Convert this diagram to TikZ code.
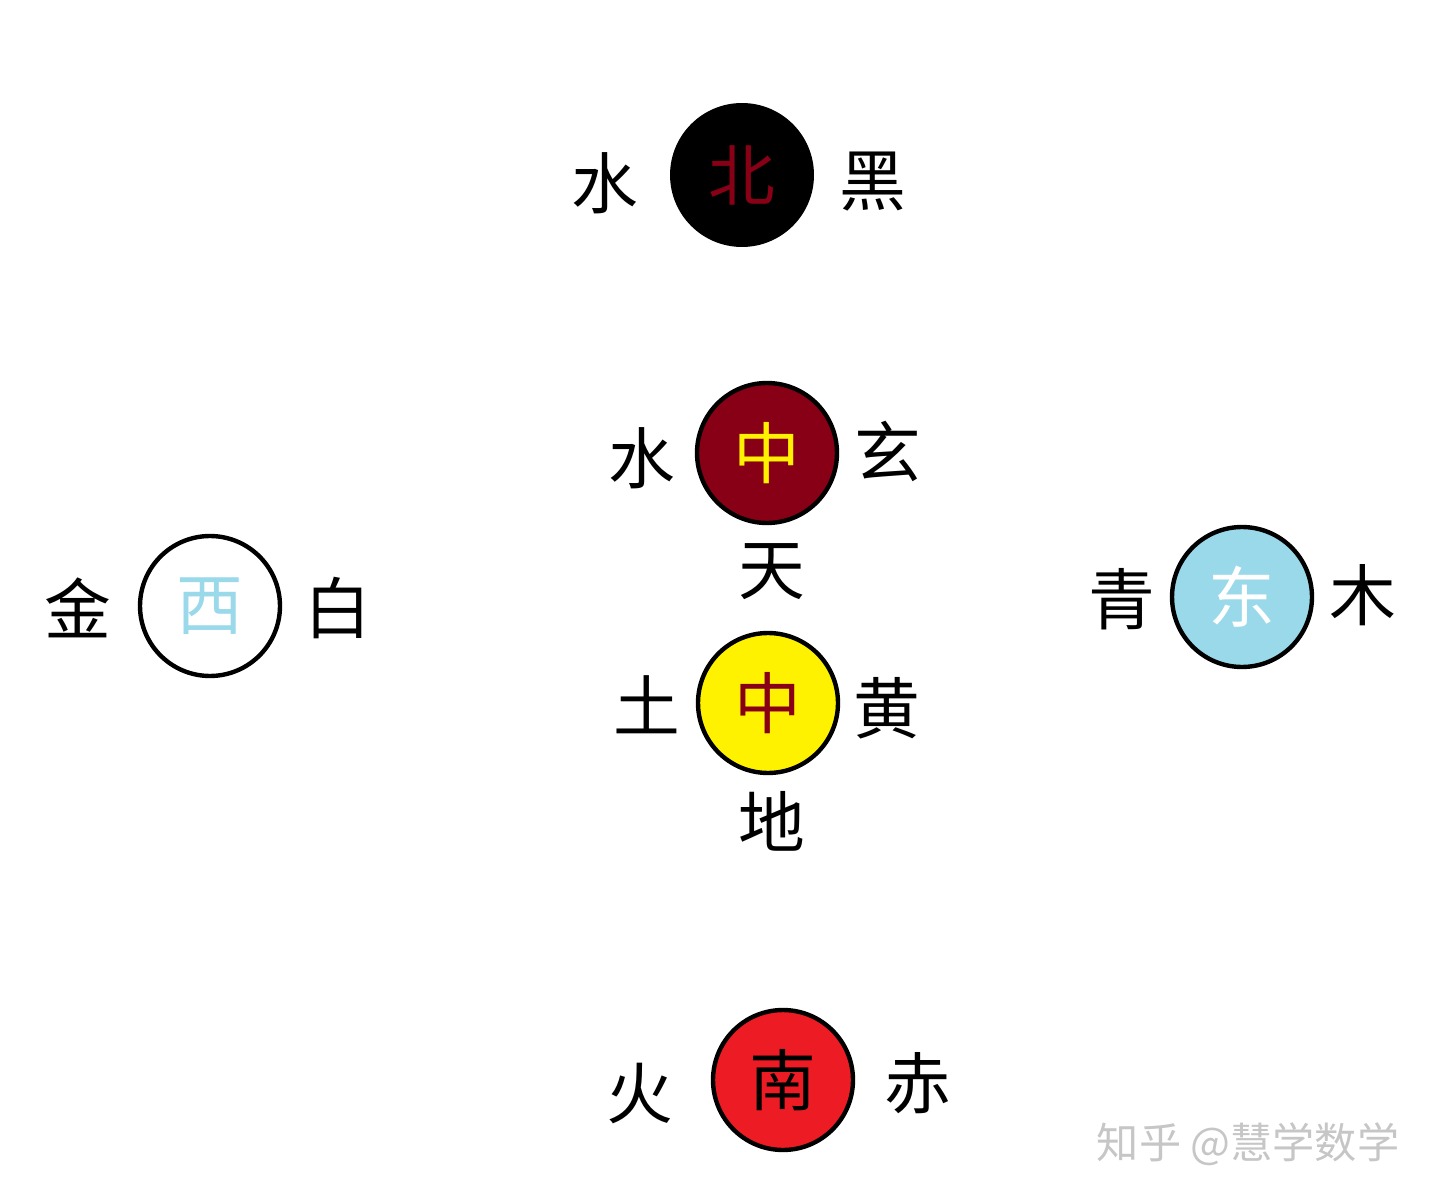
\documentclass[tikz,border=0pt]{standalone}
\usepackage{fontspec}
\newfontfamily\cjk{Noto Sans CJK SC}
\definecolor{darkred}{HTML}{880015}
\definecolor{paintred}{HTML}{ED1C24}
\definecolor{paintyellow}{HTML}{FFF200}
\definecolor{turquoise}{HTML}{99D9EA}
\begin{document}
\begin{tikzpicture}[x=0.02cm,y=-0.02cm]
        \useasboundingbox (0,0) rectangle (1440,1202);
        \begin{scope}[every node/.style={circle,draw=black,line width=2.5pt,minimum size=2.8cm,inner sep=0pt,font=\cjk\fontsize{38}{40}\selectfont}]
            \node[fill=black,text=darkred,draw=none,minimum size=2.88cm] (bei) at (742,175) {北};
            \node[fill=darkred,text=paintyellow] (tian) at (767,453) {中};
            \node[fill=paintyellow,text=darkred] (di) at (768,703) {中};
            \node[fill=white,text=turquoise] (xi) at (210,606) {西};
            \node[fill=turquoise,text=white] (dong) at (1242,597) {东};
            \node[fill=paintred,text=black] (nan) at (783,1080) {南};
        \end{scope}
        \begin{scope}[every node/.style={inner sep=0pt,font=\cjk\fontsize{38}{40}\selectfont}]
            \node (bei-l) at (605,183) {水};
            \node (bei-r) at (873,182) {黑};
            \node (tian-l) at (642,458) {水};
            \node (tian-r) at (888,451) {玄};
            \node (tian-b) at (772,572) {天};
            \node (di-l) at (647,705) {土};
            \node (di-r) at (887,708) {黄};
            \node (di-b) at (772,821) {地};
            \node (xi-l) at (78,608) {金};
            \node (xi-r) at (338,608) {白};
            \node (dong-l) at (1122,599) {青};
            \node (dong-r) at (1363,595) {木};
            \node (nan-l) at (640,1094) {火};
            \node (nan-r) at (918,1083) {赤};
        \end{scope}
        \node[text=gray!45,font=\cjk\fontsize{24}{26}\selectfont,inner sep=0pt] (mark) at (1248,1144) {知乎 @慧学数学};
    \end{tikzpicture}
\end{document}
